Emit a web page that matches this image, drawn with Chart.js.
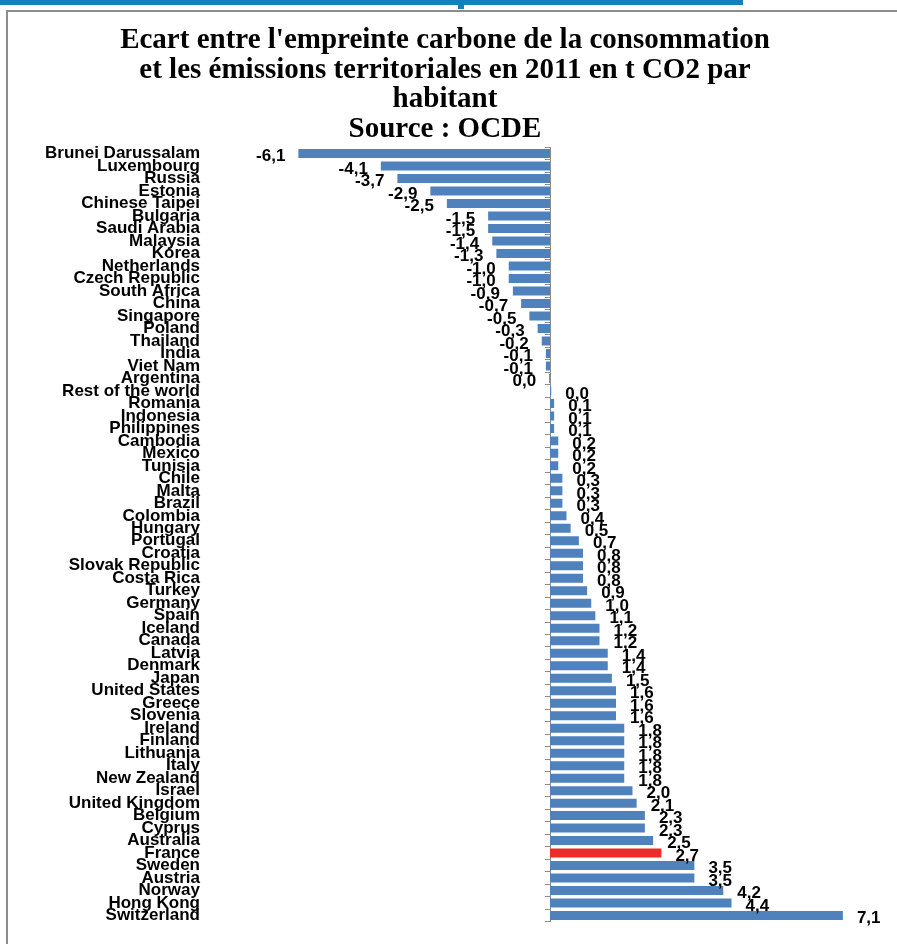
<!DOCTYPE html>
<html>
<head>
<meta charset="utf-8">
<script src="https://cdn.jsdelivr.net/npm/chart.js@4.4.1/dist/chart.umd.min.js"></script>
<style>
  body { margin: 0; background: #fff; }
  #wrap { position: relative; width: 897px; height: 944px; overflow: hidden; }
  #topbar { position: absolute; left: 0; top: 0; width: 743px; height: 5px; background: #1381bd; }
  #tab { position: absolute; left: 458px; top: 0; width: 6px; height: 9px; background: #1381bd; }
  #frame { position: absolute; left: 6px; top: 10px; width: 900px; height: 950px;
           border-left: 2px solid #8c8c8c; border-top: 2px solid #8c8c8c; }
  #myBarChart { position: absolute; left: 0; top: 0; }
</style>
</head>
<body>
<div id="wrap">
  <div id="topbar"></div>
  <div id="tab"></div>
  <div id="frame"></div>
  <canvas id="myBarChart" width="897" height="944"></canvas>
</div>
<script>
const countries = [
  "Brunei Darussalam", "Luxembourg", "Russia", "Estonia", "Chinese Taipei",
  "Bulgaria", "Saudi Arabia", "Malaysia", "Korea", "Netherlands",
  "Czech Republic", "South Africa", "China", "Singapore", "Poland",
  "Thailand", "India", "Viet Nam", "Argentina", "Rest of the world",
  "Romania", "Indonesia", "Philippines", "Cambodia", "Mexico",
  "Tunisia", "Chile", "Malta", "Brazil", "Colombia",
  "Hungary", "Portugal", "Croatia", "Slovak Republic", "Costa Rica",
  "Turkey", "Germany", "Spain", "Iceland", "Canada",
  "Latvia", "Denmark", "Japan", "United States", "Greece",
  "Slovenia", "Ireland", "Finland", "Lithuania", "Italy",
  "New Zealand", "Israel", "United Kingdom", "Belgium", "Cyprus",
  "Australia", "France", "Sweden", "Austria", "Norway",
  "Hong Kong", "Switzerland",
];

// t CO2 per inhabitant (consumption footprint minus territorial emissions)
const gap = [
  -6.1, -4.1, -3.7, -2.9, -2.5,
  -1.5, -1.5, -1.4, -1.3, -1.0,
  -1.0, -0.9, -0.7, -0.5, -0.3,
  -0.2, -0.1, -0.1, -0.02, 0.03,
  0.1, 0.1, 0.1, 0.2, 0.2,
  0.2, 0.3, 0.3, 0.3, 0.4,
  0.5, 0.7, 0.8, 0.8, 0.8,
  0.9, 1.0, 1.1, 1.2, 1.2,
  1.4, 1.4, 1.5, 1.6, 1.6,
  1.6, 1.8, 1.8, 1.8, 1.8,
  1.8, 2.0, 2.1, 2.3, 2.3,
  2.5, 2.7, 3.5, 3.5, 4.2,
  4.4, 7.1,
];

const highlighted = "France";

const titleLines = [
  "Ecart entre l'empreinte carbone de la consommation",
  "et les émissions territoriales en 2011 en t CO2 par",
  "habitant",
  "Source : OCDE",
];

const BLUE = "#4f81bd";
const RED = "#ee2b2b";
const labelFont = "bold 17px 'Liberation Sans', Arial, sans-serif";

function frNumber(v) {
  let s = Math.abs(v).toFixed(1).replace(".", ",");
  if (v < 0 && s !== "0,0") s = "-" + s;
  return s;
}

// value labels next to each bar end
const barValueLabels = {
  id: "barValueLabels",
  afterDatasetsDraw(chart) {
    const ctx = chart.ctx;
    const meta = chart.getDatasetMeta(0);
    ctx.save();
    ctx.font = labelFont;
    ctx.fillStyle = "#000";
    ctx.textBaseline = "middle";
    meta.data.forEach(function (bar, i) {
      const v = gap[i];
      if (v < 0) {
        ctx.textAlign = "right";
        ctx.fillText(frNumber(v), bar.x - 13, bar.y + 3);
      } else {
        ctx.textAlign = "left";
        ctx.fillText(frNumber(v), bar.x + 14, bar.y + 3);
      }
    });
    ctx.restore();
  },
};

document.addEventListener("DOMContentLoaded", function () {
  const ctx = document.getElementById("myBarChart").getContext("2d");
  new Chart(ctx, {
    type: "bar",
    data: {
      labels: countries,
      datasets: [
        {
          data: gap,
          backgroundColor: countries.map((c) => (c === highlighted ? RED : BLUE)),
          borderWidth: 0,
          barPercentage: 0.72,
          categoryPercentage: 1,
        },
      ],
    },
    options: {
      indexAxis: "y",
      responsive: false,
      animation: false,
      layout: { padding: { left: 10, right: 17, top: 0, bottom: 10 } },
      plugins: {
        legend: { display: false },
        tooltip: { enabled: false },
        title: {
          display: true,
          text: titleLines,
          color: "#000",
          font: { family: "'Liberation Serif', 'Times New Roman', serif", size: 29, weight: "bold", lineHeight: 1.02 },
          padding: { top: 26, bottom: 3 },
        },
      },
      scales: {
        x: {
          display: false,
          min: -8,
          max: 8,
        },
        y: {
          position: "left",
          grid: { display: false },
          border: { display: false },
          ticks: {
            autoSkip: false,
            color: "#000",
            padding: 12,
            font: { family: "'Liberation Sans', Arial, sans-serif", size: 17, weight: "bold" },
          },
          afterFit(scale) {
            scale.width = 210;
          },
        },
        zero: {
          axis: "y",
          type: "category",
          position: { x: 0 },
          offset: true,
          ticks: { display: false },
          border: { display: true, color: "#8c8c8c", width: 1 },
          grid: {
            offset: true,
            drawOnChartArea: false,
            drawTicks: true,
            tickLength: 5,
            color: "#8c8c8c",
          },
        },
      },
    },
    plugins: [barValueLabels],
  });
});
</script>
</body>
</html>
